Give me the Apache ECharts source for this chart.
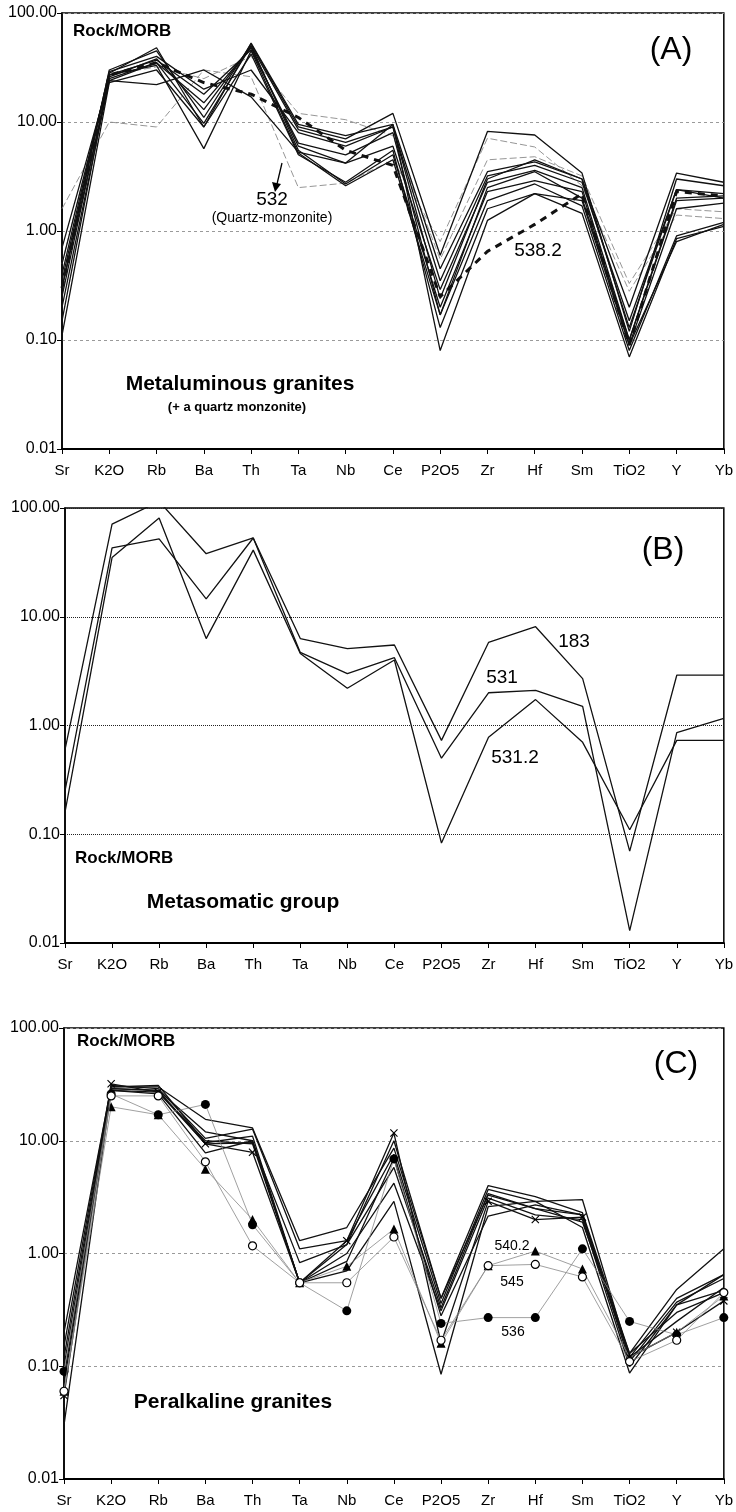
<!DOCTYPE html>
<html><head><meta charset="utf-8">
<script src="https://cdn.jsdelivr.net/npm/echarts@6/dist/echarts.min.js"></script>
<style>html,body{margin:0;padding:0;background:#fff}#c{width:736px;height:1512px}</style>
</head><body><div id="c"></div>
<script>
// ---------- categories & tick labels ----------
const categories = ['Sr','K2O','Rb','Ba','Th','Ta','Nb','Ce','P2O5','Zr','Hf','Sm','TiO2','Y','Yb'];
const yTickValues = [0.01, 0.1, 1, 10, 100];

// ---------- Panel A : Metaluminous granites ----------
const a1  = [0.35, 28, 48, 9,   53, 9.5, 7.5, 9.5, 0.45, 3.5, 4.3, 3.0, 0.20, 3.4, 2.8];
const a2  = [0.30, 30, 45, 11,  52, 9,   7,   12,  0.60, 8.2, 7.6, 3.4, 0.12, 3.0, 2.6];
const a3  = [0.25, 26, 38, 13,  50, 8.5, 6.5, 9,   0.35, 3.2, 4.0, 2.8, 0.15, 2.4, 2.2];
const a4  = [0.70, 25, 35, 15,  48, 6,   4.2, 6,   0.29, 2.8, 3.6, 2.5, 0.10, 2.0, 2.1];
const a5  = [0.20, 24, 35, 9.7, 50, 5.5, 2.7, 5,   0.20, 2.3, 2.9, 2.3, 0.09, 1.6, 1.8];
const a6  = [0.15, 27, 33, 5.7, 45, 5.2, 2.6, 4.5, 0.17, 1.9, 2.7, 1.7, 0.08, 0.9, 1.2];
const a7  = [0.11, 23, 30, 9,   42, 5,   2.8, 5.5, 0.13, 1.6, 2.2, 1.45,0.07, 0.85,1.1];
const a8  = [0.30, 24, 22, 30,  17, 5.3, 4.2, 9.5, 0.08, 1.25,2.2, 1.9, 0.09, 0.8, 1.15];
const a9  = [0.40, 29, 40, 20,  30, 8,   6,   9,   0.24, 3.0, 4.5, 3.0, 0.13, 2.4, 2.0];
const a10 = [0.50, 27, 37, 18,  46, 6.4, 5.0, 8,   0.17, 2.5, 3.5, 2.0, 0.10, 1.9, 2.0];
const a532   = [1.6, 10, 9,  30, 26, 2.5, 2.75, 4.5, 0.80, 7.1, 5.9, 2.6, 0.28, 1.4, 1.3];
const aGrey2 = [0.5, 27, 32, 25, 40, 12,  10.5, 7.5, 0.55, 4.5, 4.8, 3.2, 0.33, 1.6, 1.5];
const a538_2 = [0.3, 27, 35, 23, 18, 11,  5.5,  4.0, 0.25, 0.65,1.15,2.2, 0.09, 2.3, 2.1];

// ---------- Panel B : Metasomatic group ----------
const b183   = [0.60, 71, 115, 38,  53, 6.3, 5.1, 5.5, 0.73, 5.8, 8.1, 2.7, 0.07, 2.9, 2.9];
const b531   = [0.25, 43, 52,  14.6,53, 4.7, 3.0, 4.2, 0.50, 2.0, 2.1, 1.5, 0.013,0.86,1.16];
const b531_2 = [0.16, 35, 81,  6.3, 41, 4.6, 2.2, 4.0, 0.083,0.78,1.73,0.7, 0.11, 0.73,0.73];

// ---------- Panel C : Peralkaline granites ----------
const c1 = [0.20, 30, 30, 15.5, 13,   1.3,  1.7,  8.6, 0.40, 4.0, 3.2, 2.3, 0.13, 0.48, 1.1];
const c2 = [0.15, 31, 29, 10.5, 12.7, 1.1,  1.3,  7.6, 0.36, 3.7, 2.9, 3.0, 0.12, 0.40, 0.65];
const c3 = [0.10, 29, 28, 9.4,  9.6,  0.83, 1.2,  5.8, 0.33, 3.4, 2.5, 2.2, 0.11, 0.37, 0.60];
const c4 = [0.07, 28, 27, 10,   9.4,  0.55, 1.0,  4.2, 0.31, 3.1, 2.2, 2.0, 0.10, 0.35, 0.47];
const c6 = [0.03, 28, 26, 7.8,  10,   0.55, 0.7,  2.9, 0.085,2.6, 2.9, 1.7, 0.087,0.35, 0.65];
const c7 = [0.12, 30, 31, 9.6,  11,   0.55, 1.2,  10,  0.40, 3.3, 2.5, 1.9, 0.13, 0.30, 0.45];
const c8 = [0.08, 29, 28, 12,   10,   0.55, 0.85, 7.0, 0.28, 2.15,2.7, 2.2, 0.12, 0.25, 0.50];
const cCross = [0.055, 32, 27, 9.4, 7.9, 0.55, 1.3, 11.7, 0.16, 2.9, 2.0, 2.1, 0.12, 0.20, 0.38];
const c540_2 = [0.06, 20, 17, 5.6, 2.0,  0.55, 0.77, 1.65, 0.16, 0.78, 1.05, 0.73, 0.12, 0.20, 0.42];
const c545   = [0.06, 25, 25, 6.5, 1.17, 0.55, 0.55, 1.4,  0.17, 0.78, 0.80, 0.62, 0.11, 0.17, 0.45];
const c536   = [0.09, 26, 17, 21,  1.8,  0.55, 0.31, 6.9,  0.24, 0.27, 0.27, 1.10, 0.25, 0.19, 0.27];

// ---------- build ----------
const FONT = '"Liberation Sans", Arial, sans-serif';
const grids = [
  {left: 62, right: 10, top: 13,   height: 436},
  {left: 65, right: 10, top: 508,  height: 435},
  {left: 64, right: 10, top: 1028, height: 451}
];
const splitStyles = [
  {color: '#9a9a9a', width: 1, type: [3, 3]},
  {color: '#222', width: 1, type: [1, 1]},
  {color: '#9a9a9a', width: 1, type: [3, 3]}
];

function mk(name, data, gi, opts) {
  opts = opts || {};
  return {
    name: name, type: 'line', xAxisIndex: gi, yAxisIndex: gi, data: data,
    symbol: opts.symbol || 'none', symbolSize: opts.symbolSize || 8,
    showSymbol: !!opts.symbol,
    itemStyle: {color: opts.fill || '#000', borderColor: '#000', borderWidth: opts.bw || 0},
    lineStyle: {color: opts.color || '#111', width: opts.width || 1.3, type: opts.type || 'solid'},
    z: opts.z || 2, silent: true, animation: false, clip: true
  };
}
const crossPath = 'path://M0,1L1,0L5,4L9,0L10,1L6,5L10,9L9,10L5,6L1,10L0,9L4,5Z';

const series = [];
[a1,a2,a3,a4,a5,a6,a7,a8,a9,a10].forEach((d,i)=>series.push(mk('A'+(i+1), d, 0)));
series.push(mk('532', a532, 0, {color:'#8a8a8a', width:0.9, type:[7,3], z:1}));
series.push(mk('A-grey', aGrey2, 0, {color:'#8a8a8a', width:0.9, type:[7,3], z:1}));
series.push(mk('538.2', a538_2, 0, {color:'#111', width:3, type:[7,6], z:3}));

series.push(mk('183', b183, 1));
series.push(mk('531', b531, 1));
series.push(mk('531.2', b531_2, 1));

[c1,c2,c3,c4,c6,c7,c8].forEach((d,i)=>series.push(mk('C'+(i+1), d, 2)));
series.push(mk('C-cross', cCross, 2, {symbol: crossPath, symbolSize: 8}));
series.push(mk('540.2', c540_2, 2, {color:'#888', width:0.8, symbol:'triangle', symbolSize:9, z:4}));
series.push(mk('545', c545, 2, {color:'#888', width:0.8, symbol:'circle', symbolSize:8, fill:'#fff', bw:1.2, z:5}));
series.push(mk('536', c536, 2, {color:'#888', width:0.8, symbol:'circle', symbolSize:9, z:4}));

const xAxis = grids.map((g,i)=>({
  gridIndex: i, type: 'category', data: categories, boundaryGap: false,
  axisLine: {show: true, lineStyle: {color: '#000', width: 2}},
  axisTick: {show: true, length: 5, lineStyle: {color: '#000'}},
  axisLabel: {color: '#000', fontSize: 15, fontFamily: FONT, margin: 14, interval: 0},
  splitLine: {show: false}
}));
const yAxis = grids.map((g,i)=>({
  gridIndex: i, type: 'log', logBase: 10, min: yTickValues[0], max: yTickValues[yTickValues.length-1],
  axisLine: {show: true, lineStyle: {color: '#000', width: 1.5}},
  axisTick: {show: true, length: 5, lineStyle: {color: '#000'}},
  axisLabel: {color: '#000', fontSize: 16, fontFamily: FONT, margin: 5,
              formatter: v => Number(v).toFixed(2)},
  splitLine: {show: true, lineStyle: splitStyles[i]},
  minorTick: {show: false}, minorSplitLine: {show: false}
}));

function txt(text, x, y, size, bold, align) {
  return {type: 'text', z: 10, silent: true, style: {
    text: text, x: x, y: y, fill: '#000',
    font: (bold ? 'bold ' : '') + size + 'px ' + FONT,
    textAlign: align || 'center', textVerticalAlign: 'middle',
    align: align || 'center', verticalAlign: 'middle'
  }};
}
const graphic = [
  txt('Rock/MORB', 73, 31, 17, true, 'left'),
  txt('(A)', 671, 50, 32, false),
  txt('532', 272, 200, 19, false),
  txt('(Quartz-monzonite)', 272, 218, 14, false),
  {type:'line', z:10, silent:true, shape:{x1:282, y1:163, x2:277, y2:184}, style:{stroke:'#000', lineWidth:1.3}},
  {type:'polygon', z:10, silent:true, shape:{points:[[272,182],[281,184],[275,192]]}, style:{fill:'#000'}},
  txt('538.2', 538, 251, 19, false),
  txt('Metaluminous granites', 240, 384, 21, true),
  txt('(+ a quartz monzonite)', 237, 407, 13, true),

  txt('(B)', 663, 550, 32, false),
  txt('183', 574, 642, 19, false),
  txt('531', 502, 678, 19, false),
  txt('531.2', 515, 758, 19, false),
  txt('Rock/MORB', 75, 858, 17, true, 'left'),
  txt('Metasomatic group', 243, 902, 21, true),

  txt('Rock/MORB', 77, 1041, 17, true, 'left'),
  txt('(C)', 676, 1064, 32, false),
  txt('540.2', 512, 1246, 14, false),
  txt('545', 512, 1282, 14, false),
  txt('536', 513, 1332, 14, false),
  txt('Peralkaline granites', 233, 1402, 21, true)
];

const chart = echarts.init(document.getElementById('c'), null, {renderer: 'canvas'});
chart.setOption({
  backgroundColor: '#fff',
  animation: false,
  grid: grids.map(g => Object.assign({show: true, borderColor: '#000', borderWidth: 1.5, backgroundColor: 'transparent'}, g)),
  xAxis: xAxis, yAxis: yAxis, series: series, graphic: graphic
});
</script>
</body></html>
